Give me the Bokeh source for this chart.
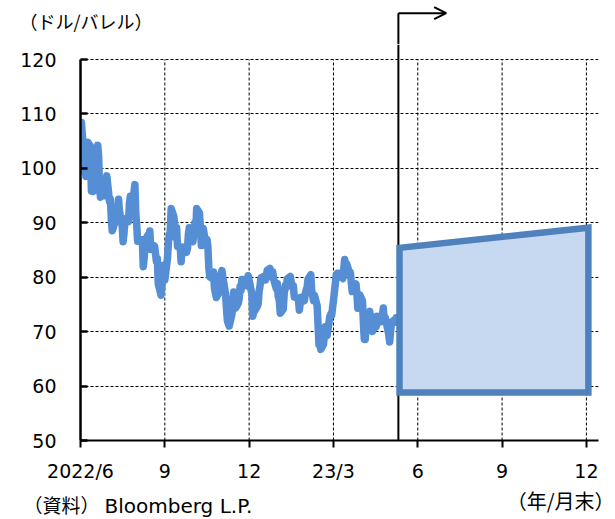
import calendar
import pandas as pd
from bokeh.plotting import figure
from bokeh.layouts import column
from bokeh.models import FixedTicker, Label, Arrow, OpenHead, Range1d, ColumnDataSource, Plot
from bokeh.embed import file_html
from bokeh.resources import INLINE

# ---------------- data ----------------
trade_dates = [
    "2022-07-01","2022-07-05","2022-07-06","2022-07-07","2022-07-08","2022-07-11","2022-07-12","2022-07-13",
    "2022-07-14","2022-07-15","2022-07-18","2022-07-19","2022-07-20","2022-07-21","2022-07-22","2022-07-25",
    "2022-07-26","2022-07-27","2022-07-28","2022-07-29",
    "2022-08-01","2022-08-02","2022-08-03","2022-08-04","2022-08-05","2022-08-08","2022-08-09","2022-08-10",
    "2022-08-11","2022-08-12","2022-08-15","2022-08-16","2022-08-17","2022-08-18","2022-08-19","2022-08-22",
    "2022-08-23","2022-08-24","2022-08-25","2022-08-26","2022-08-29","2022-08-30","2022-08-31",
    "2022-09-01","2022-09-02","2022-09-06","2022-09-07","2022-09-08","2022-09-09","2022-09-12","2022-09-13",
    "2022-09-14","2022-09-15","2022-09-16","2022-09-19","2022-09-20","2022-09-21","2022-09-22","2022-09-23",
    "2022-09-26","2022-09-27","2022-09-28","2022-09-29","2022-09-30",
    "2022-10-03","2022-10-04","2022-10-05","2022-10-06","2022-10-07","2022-10-10","2022-10-11","2022-10-12",
    "2022-10-13","2022-10-14","2022-10-17","2022-10-18","2022-10-19","2022-10-20","2022-10-21","2022-10-24",
    "2022-10-25","2022-10-26","2022-10-27","2022-10-28","2022-10-31",
    "2022-11-01","2022-11-02","2022-11-03","2022-11-04","2022-11-07","2022-11-08","2022-11-09","2022-11-10",
    "2022-11-11","2022-11-14","2022-11-15","2022-11-16","2022-11-17","2022-11-18","2022-11-21","2022-11-22",
    "2022-11-23","2022-11-25","2022-11-28","2022-11-29","2022-11-30",
    "2022-12-01","2022-12-02","2022-12-05","2022-12-06","2022-12-07","2022-12-08","2022-12-09","2022-12-12",
    "2022-12-13","2022-12-14","2022-12-15","2022-12-16","2022-12-19","2022-12-20","2022-12-21","2022-12-22",
    "2022-12-23","2022-12-27","2022-12-28","2022-12-29","2022-12-30",
    "2023-01-03","2023-01-04","2023-01-05","2023-01-06","2023-01-09","2023-01-10","2023-01-11","2023-01-12",
    "2023-01-13","2023-01-17","2023-01-18","2023-01-19","2023-01-20","2023-01-23","2023-01-24","2023-01-25",
    "2023-01-26","2023-01-27","2023-01-30","2023-01-31",
    "2023-02-01","2023-02-02","2023-02-03","2023-02-06","2023-02-07","2023-02-08","2023-02-09","2023-02-10",
    "2023-02-13","2023-02-14","2023-02-15","2023-02-16","2023-02-17","2023-02-21","2023-02-22","2023-02-23",
    "2023-02-24","2023-02-27","2023-02-28",
    "2023-03-01","2023-03-02","2023-03-03","2023-03-06","2023-03-07","2023-03-08","2023-03-09","2023-03-10",
    "2023-03-13","2023-03-14","2023-03-15","2023-03-16","2023-03-17","2023-03-20","2023-03-21","2023-03-22",
    "2023-03-23","2023-03-24","2023-03-27","2023-03-28","2023-03-29","2023-03-30","2023-03-31",
    "2023-04-03","2023-04-04","2023-04-05","2023-04-06","2023-04-10","2023-04-11","2023-04-12","2023-04-13",
    "2023-04-14","2023-04-17","2023-04-18","2023-04-19","2023-04-20","2023-04-21","2023-04-24","2023-04-25",
    "2023-04-26","2023-04-27","2023-04-28",
    "2023-05-01","2023-05-02","2023-05-03","2023-05-04","2023-05-05","2023-05-08","2023-05-09","2023-05-10",
    "2023-05-11","2023-05-12","2023-05-15","2023-05-16","2023-05-17","2023-05-18","2023-05-19","2023-05-22",
    "2023-05-23","2023-05-24","2023-05-25","2023-05-26","2023-05-30","2023-05-31",
    "2023-06-01","2023-06-02","2023-06-05","2023-06-06","2023-06-07",
]
wti_price = [
    108.43, 99.50, 98.53, 102.73, 104.79, 104.09, 95.84, 96.30,
    95.78, 97.59, 102.60, 104.22, 102.26, 96.35, 94.70, 96.70,
    94.98, 97.26, 96.42, 98.62,
    93.89, 94.42, 90.66, 88.54, 89.01, 90.76, 90.50, 91.93,
    94.34, 92.09, 89.41, 86.53, 88.11, 90.50, 90.77, 90.23,
    93.74, 94.89, 92.52, 93.06, 97.01, 91.64, 89.55,
    86.61, 86.87, 86.88, 81.94, 83.54, 86.79, 87.78, 87.31,
    88.48, 85.10, 85.11, 85.73, 84.45, 82.94, 83.49, 78.74,
    76.71, 78.50, 82.15, 81.23, 79.49,
    83.63, 86.52, 87.76, 88.45, 92.64, 91.13, 89.35, 87.27,
    89.11, 85.61, 85.46, 82.82, 85.55, 84.51, 85.05, 84.58,
    85.32, 87.91, 89.08, 87.90, 86.53,
    88.37, 90.00, 88.17, 92.61, 91.79, 88.91, 85.83, 86.47,
    88.96, 85.87, 86.92, 85.59, 81.64, 80.08, 79.73, 80.95,
    77.94, 76.28, 77.24, 78.20, 80.55,
    81.22, 79.98, 76.93, 74.25, 72.01, 71.46, 71.02, 73.17,
    75.39, 77.28, 76.11, 74.29, 75.19, 76.09, 78.29, 77.49,
    79.56, 79.53, 78.96, 78.40, 80.26,
    76.93, 72.84, 73.67, 73.77, 74.63, 75.12, 77.41, 78.39,
    79.86, 80.18, 79.48, 80.33, 81.31, 81.62, 80.13, 80.15,
    81.01, 79.68, 77.90, 78.87,
    76.41, 75.88, 73.39, 74.11, 77.14, 78.47, 78.06, 79.72,
    80.14, 79.06, 78.59, 78.49, 76.34, 76.16, 73.95, 75.39,
    76.32, 75.68, 77.05,
    77.69, 78.16, 79.68, 80.46, 77.58, 76.66, 75.72, 76.68,
    74.80, 71.33, 67.61, 68.35, 66.74, 67.64, 69.33, 70.90,
    69.96, 69.26, 72.81, 73.20, 72.97, 74.37, 75.67,
    80.42, 80.71, 80.61, 80.70, 79.74, 81.53, 83.26, 82.16,
    82.52, 80.83, 80.86, 79.16, 77.37, 77.87, 78.76, 77.07,
    74.30, 74.76, 76.78,
    75.66, 71.66, 68.60, 68.56, 71.34, 73.16, 73.71, 72.56,
    70.87, 70.04, 71.11, 70.86, 72.83, 71.86, 71.69, 71.99,
    72.91, 74.34, 71.83, 72.67, 69.46, 68.09,
    70.10, 71.74, 72.15, 71.74, 72.53,
]

# forecast band (month positions counted from end of June 2022)
forecast_months = [11.35, 18.07]
forecast_upper = [85.4, 89.1]
forecast_lower = [58.8, 58.8]
forecast_start = 11.31      # vertical marker line
arrow_tip = 13.01

x_ticks = [0, 3, 6, 9, 12, 15, 18]
x_tick_labels = ["2022/6", "9", "12", "23/3", "6", "9", "12"]
y_ticks = [50, 60, 70, 80, 90, 100, 110, 120]

unit_label = "（ドル/バレル）"
source_label = "（資料）"
source_name = "Bloomberg L.P."
period_label = "（年/月末）"


def month_pos(ts):
    idx = (ts.year - 2022) * 12 + ts.month - 6
    return idx - 1 + ts.day / calendar.monthrange(ts.year, ts.month)[1]


xs = [month_pos(pd.Timestamp(d)) for d in trade_dates]
src = ColumnDataSource(dict(x=xs, y=wti_price))

BLACK = "#000000"
JP = "Noto Sans CJK JP"
LAT = "DejaVu Sans"
FA = {"frame_align": False} if "frame_align" in Plot.properties() else {}

W = 615
FRAME_L, FRAME_R = 80, 598
X_END = 18.43
PX_PER_MONTH = (FRAME_R - FRAME_L) / X_END
PX_PER_UNIT = 381 / 70.0
TOP_H = 44
FRAME_BOTTOM = 440
MAIN_BOTTOM_BORDER = 46
MAIN_H = FRAME_BOTTOM - TOP_H + MAIN_BOTTOM_BORDER
BOT_H = 519 - TOP_H - MAIN_H
Y_END = 50 + (FRAME_BOTTOM - TOP_H) / PX_PER_UNIT

# ---------------- top strip: unit label + forecast arrow ----------------
top = figure(width=W, height=TOP_H, output_backend="svg", toolbar_location=None,
             x_range=Range1d(-FRAME_L / PX_PER_MONTH, (W - FRAME_L) / PX_PER_MONTH),
             y_range=Range1d(0, TOP_H), x_axis_type=None, y_axis_type=None,
             min_border=0, min_border_left=0, min_border_right=0, min_border_top=0, min_border_bottom=0,
             title=None, **FA)
top.outline_line_color = None
top.grid.visible = False
arrow_y = TOP_H - 12.7
top.add_layout(Arrow(end=None, x_start=forecast_start, y_start=0, x_end=forecast_start, y_end=arrow_y,
                     line_width=2, line_color=BLACK))
top.add_layout(Arrow(end=OpenHead(size=12, line_width=2, line_color=BLACK),
                     x_start=forecast_start, y_start=arrow_y, x_end=arrow_tip, y_end=arrow_y,
                     line_width=2, line_color=BLACK))
top.add_layout(Label(x=(19 - FRAME_L) / PX_PER_MONTH, y=TOP_H - 20, text=unit_label,
                     text_font=JP, text_font_size="18px", text_baseline="middle", text_color=BLACK))

# ---------------- main chart ----------------
p = figure(width=W, height=MAIN_H, output_backend="svg", toolbar_location=None,
           x_range=Range1d(0, X_END), y_range=Range1d(50, Y_END),
           min_border_left=FRAME_L, min_border_right=W - FRAME_R, min_border_top=0,
           min_border_bottom=MAIN_BOTTOM_BORDER, title=None, **FA)
p.outline_line_color = None
p.background_fill_color = "white"
p.border_fill_color = "white"

p.xgrid.visible = False
p.ygrid.grid_line_color = BLACK
p.ygrid.grid_line_dash = "3 2"
p.ygrid.grid_line_width = 1
p.ygrid.ticker = FixedTicker(ticks=y_ticks)
# vertical grid lines only span the 50-120 scale
vgrid_x = x_ticks[1:]
p.segment(x0=vgrid_x, y0=[y_ticks[0]] * len(vgrid_x), x1=vgrid_x, y1=[y_ticks[-1]] * len(vgrid_x),
          line_color=BLACK, line_dash="3 2", line_width=1)

xa = p.xaxis[0]
xa.ticker = FixedTicker(ticks=x_ticks)
xa.major_label_overrides = {t: l for t, l in zip(x_ticks, x_tick_labels)}
xa.axis_line_width = 2
xa.axis_line_color = BLACK
xa.major_tick_in = 0
xa.major_tick_out = 7
xa.major_tick_line_width = 2
xa.minor_tick_line_color = None
xa.major_label_standoff = 12
xa.major_label_text_font = LAT
xa.major_label_text_font_size = "19px"
xa.major_label_text_color = BLACK

ya = p.yaxis[0]
ya.ticker = FixedTicker(ticks=y_ticks)
ya.bounds = (50, 120)
ya.axis_line_width = 2.5
ya.axis_line_color = BLACK
ya.major_tick_in = 7
ya.major_tick_out = 0
ya.major_tick_line_width = 2.5
ya.minor_tick_line_color = None
ya.major_label_standoff = 24
ya.major_label_text_font = LAT
ya.major_label_text_font_size = "19px"
ya.major_label_text_color = BLACK

# vertical marker through the chart (behind the band)
p.segment(x0=[forecast_start], y0=[50], x1=[forecast_start], y1=[Y_END], line_color=BLACK, line_width=2)

p.line("x", "y", source=src, line_color="#558ED5", line_width=7.5, line_join="round", line_cap="round")

band_x = [forecast_months[0], forecast_months[0], forecast_months[1], forecast_months[1]]
band_y = [forecast_lower[0], forecast_upper[0], forecast_upper[1], forecast_lower[1]]
p.patch(band_x, band_y, fill_color="#C6D9F1", line_color="#4F81BD", line_width=6.5, line_join="miter")

# ---------------- bottom strip: source and unit notes ----------------
bot = figure(width=W, height=BOT_H, output_backend="svg", toolbar_location=None,
             x_range=Range1d(0, W), y_range=Range1d(0, BOT_H), x_axis_type=None, y_axis_type=None,
             min_border=0, min_border_left=0, min_border_right=0, min_border_top=0, min_border_bottom=0,
             title=None, **FA)
bot.outline_line_color = None
bot.grid.visible = False
bot.add_layout(Label(x=23, y=15, text=source_label, text_font=JP, text_font_size="19px",
                     text_baseline="alphabetic", text_color=BLACK))
bot.add_layout(Label(x=104, y=14, text=source_name, text_font=LAT, text_font_size="20px",
                     text_baseline="alphabetic", text_color=BLACK))
bot.add_layout(Label(x=614, y=19, text=period_label, text_font=JP, text_font_size="20px",
                     text_align="right", text_baseline="alphabetic", text_color=BLACK))

layout = column(top, p, bot, spacing=0)
open("out.html", "w").write(file_html(layout, INLINE))
